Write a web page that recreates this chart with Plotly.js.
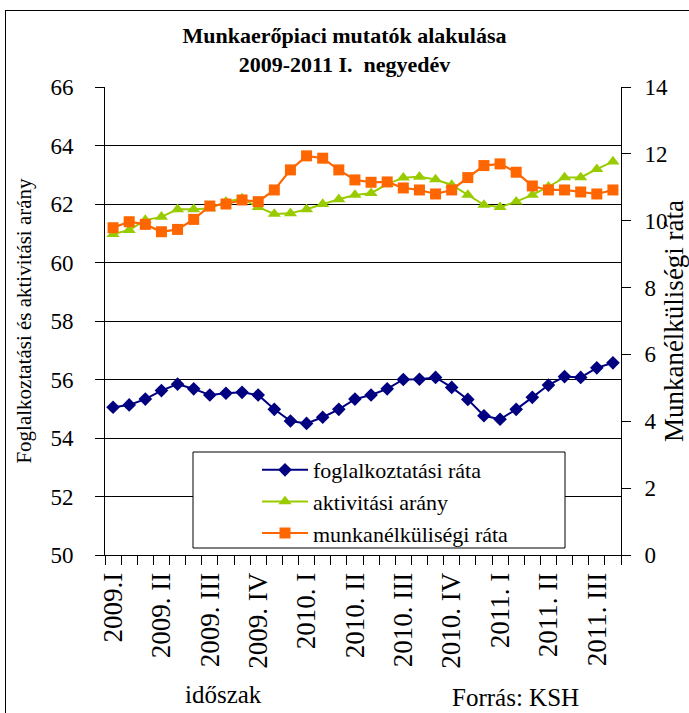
<!DOCTYPE html>
<html>
<head>
<meta charset="utf-8">
<script src="https://cdn.plot.ly/plotly-3.0.1.min.js"></script>
<style>
  html, body { margin: 0; padding: 0; background: #fff; }
  #wrap { position: relative; width: 689px; height: 713px; overflow: hidden; }
  #chart { position: absolute; left: 0; top: 0; width: 689px; height: 713px; }
  #frame { position: absolute; left: 5px; top: 10px; width: 720px; height: 740px;
           border-left: 1px solid #000; border-top: 1px solid #000; pointer-events: none; }
</style>
</head>
<body>
<div id="wrap">
  <div id="chart"></div>
  <div id="frame"></div>
</div>
<script>
// Tick labels (one every third period)
const tickLabels = ["2009.I", "2009. II", "2009. III", "2009. IV", "2010. I", "2010. II",
                    "2010. III", "2010. IV", "2011. I", "2011. II", "2011. III"];

// Series values (32 periods)
const foglalkoztatasi = [55.05, 55.13, 55.33, 55.62, 55.84, 55.68, 55.47, 55.53, 55.56, 55.47,
                         54.98, 54.58, 54.50, 54.71, 54.98, 55.33, 55.47, 55.68, 56.00, 56.01,
                         56.07, 55.73, 55.32, 54.76, 54.64, 54.98, 55.39, 55.81, 56.10, 56.07,
                         56.40, 56.57];
const aktivitasi = [60.97, 61.11, 61.45, 61.56, 61.82, 61.82, 61.85, 62.08, 62.19, 61.89,
                    61.66, 61.68, 61.82, 62.00, 62.16, 62.31, 62.37, 62.68, 62.90, 62.93,
                    62.84, 62.65, 62.31, 61.97, 61.89, 62.08, 62.31, 62.59, 62.91, 62.91,
                    63.19, 63.45];
const munkanelkulisegi = [9.79, 9.97, 9.89, 9.67, 9.74, 10.04, 10.44, 10.50, 10.62, 10.57,
                          10.92, 11.52, 11.94, 11.87, 11.52, 11.22, 11.15, 11.16, 10.98, 10.92,
                          10.80, 10.92, 11.29, 11.65, 11.70, 11.45, 11.04, 10.92, 10.92, 10.86,
                          10.80, 10.92];

const seriesNames = ["foglalkoztatási ráta", "aktivitási arány", "munkanélküliségi ráta"];

const n = foglalkoztatasi.length;
const xIdx = foglalkoztatasi.map((_, i) => i);
const tickVals = tickLabels.map((_, i) => i * 3);
const bounds = [];
for (let i = 0; i <= n; i++) bounds.push(i - 0.5);

const FONT = 'Liberation Serif';

const traces = [
  { x: xIdx, y: foglalkoztatasi, name: seriesNames[0], type: 'scatter', mode: 'lines+markers',
    line: { color: '#000080', width: 2 }, marker: { symbol: 'diamond', size: 10.5, color: '#000080' },
    xaxis: 'x', yaxis: 'y' },
  { x: xIdx, y: aktivitasi, name: seriesNames[1], type: 'scatter', mode: 'lines+markers',
    line: { color: '#99CC00', width: 2 }, marker: { symbol: 'triangle-up', size: 11.5, color: '#99CC00' },
    xaxis: 'x', yaxis: 'y' },
  { x: xIdx, y: munkanelkulisegi, name: seriesNames[2], type: 'scatter', mode: 'lines+markers',
    line: { color: '#FF6600', width: 2.2 }, marker: { symbol: 'square', size: 11, color: '#FF6600' },
    xaxis: 'x', yaxis: 'y2' }
];

const layout = {
  width: 689, height: 713,
  margin: { l: 105, r: 68, t: 87, b: 158 },
  paper_bgcolor: '#fff', plot_bgcolor: '#fff',
  font: { family: FONT, color: '#000' },
  showlegend: true,
  title: {
    text: 'Munkaerőpiaci mutatók alakulása<br>2009-2011 I.\u00a0 negyedév',
    font: { family: FONT, size: 22, weight: 'bold', color: '#000' },
    xref: 'container', x: 0.5, xanchor: 'center',
    yref: 'container', y: 1 - 43 / 713, yanchor: 'top'
  },
  xaxis: {
    range: [-0.5, n - 0.5], tickmode: 'array', tickvals: tickVals, ticktext: tickLabels,
    tickangle: -90, ticks: '', showline: true, linecolor: '#000', linewidth: 1,
    showgrid: false, zeroline: false, tickfont: { family: FONT, size: 27, color: '#000' },
    ticklabelstandoff: 6,
    minor: { tickmode: 'array', tickvals: bounds, ticks: 'outside', ticklen: 9,
             tickcolor: '#000', tickwidth: 1, showgrid: false }
  },
  xaxis2: {
    overlaying: 'x', anchor: 'y', side: 'bottom', range: [-0.5, n - 0.5],
    tickmode: 'array', tickvals: bounds, ticks: 'inside', ticklen: 7, tickcolor: '#000',
    showticklabels: false, showgrid: false, zeroline: false, showline: false
  },
  yaxis: {
    range: [50, 66], tick0: 50, dtick: 2, ticks: 'outside', ticklen: 9, tickcolor: '#000',
    showline: true, linecolor: '#000', linewidth: 1, showgrid: true, gridcolor: '#000', gridwidth: 1,
    zeroline: false, tickfont: { family: FONT, size: 23, color: '#000' }, ticklabelstandoff: 17,
    title: { text: 'Foglalkoztatási és aktivitási arány', font: { family: FONT, size: 21, color: '#000' }, standoff: 13 }
  },
  yaxis2: {
    overlaying: 'y', side: 'right', anchor: 'x', range: [0, 14], tick0: 0, dtick: 2,
    ticks: 'outside', ticklen: 9, tickcolor: '#000', showline: true, linecolor: '#000', linewidth: 1,
    showgrid: false, zeroline: false, tickfont: { family: FONT, size: 23, color: '#000' },
    ticklabelstandoff: 9,
    title: { text: 'Munkanélküliségi ráta', font: { family: FONT, size: 27, color: '#000' }, standoff: 6 }
  },
  legend: {
    x: (257 - 105) / 516, y: (555 - 449) / 468, xanchor: 'left', yanchor: 'top',
    bgcolor: 'rgba(0,0,0,0)', borderwidth: 0, font: { family: FONT, size: 22, color: '#000' },
    itemwidth: 46, tracegroupgap: 0
  },
  shapes: [{
    type: 'rect', xref: 'paper', yref: 'paper',
    x0: (193 - 105) / 516, x1: (565 - 105) / 516, y0: (555 - 548) / 468, y1: (555 - 452) / 468,
    line: { color: '#000', width: 1 }, fillcolor: '#fff', layer: 'above'
  }],
  annotations: [
    { text: 'időszak', xref: 'paper', yref: 'paper', x: (223 - 105) / 516, y: (555 - 694) / 468,
      xanchor: 'center', yanchor: 'middle', showarrow: false, font: { family: FONT, size: 25, color: '#000' } },
    { text: 'Forrás: KSH', xref: 'paper', yref: 'paper', x: (515 - 105) / 516, y: (555 - 713) / 468,
      xanchor: 'center', yanchor: 'bottom', showarrow: false, font: { family: FONT, size: 25, color: '#000' } }
  ]
};

Plotly.newPlot('chart', traces, layout, { displayModeBar: false, staticPlot: true });
</script>
</body>
</html>
